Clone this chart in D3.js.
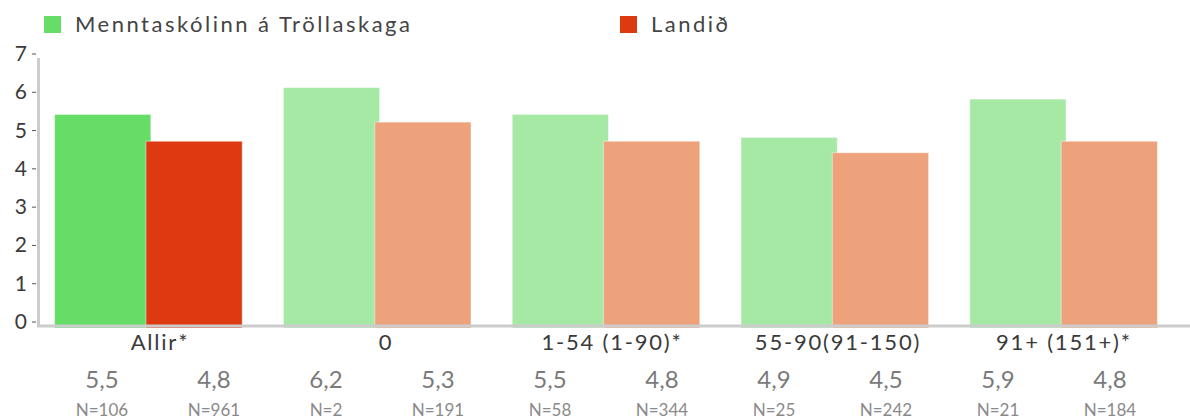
<!DOCTYPE html>
<html>
<head>
<meta charset="utf-8">
<script src="https://cdn.jsdelivr.net/npm/d3@7"></script>
<style>
  body { margin: 0; background: #fff; }
  text { font-family: Lato, "Open Sans", sans-serif; }
</style>
</head>
<body>
<div class="chart"></div>
<script>
var svgWidth = 1190;
var svgHeight = 419;

// data
var categories = ["Allir*", "0", "1-54 (1-90)*", "55-90(91-150)", "91+ (151+)*"];
var seriesNames = ["Menntaskólinn á Tröllaskaga", "Landið"];
var schoolValues = [5.5, 6.2, 5.5, 4.9, 5.9];
var countryValues = [4.8, 5.3, 4.8, 4.5, 4.8];
var schoolN = [106, 2, 58, 25, 21];
var countryN = [961, 191, 344, 242, 184];
var yTicks = [0, 1, 2, 3, 4, 5, 6, 7];

var strongColors = ["#66dd66", "#dd3a12"];
var lightColors = ["#a5e9a5", "#eea27c"];

var svg = d3.select(".chart")
    .append("svg")
    .attr("width", svgWidth)
    .attr("height", svgHeight);

var yScale = d3.scaleLinear()
    .domain([0, 7])
    .range([323, 55]);

var x0 = d3.scaleBand()
    .domain(categories)
    .range([34, 1178])
    .paddingInner(0.18)
    .paddingOuter(0.09);

var barW = x0.bandwidth() * 0.513;

// bars
var groups = svg.selectAll(".group")
    .data(categories)
    .enter()
    .append("g")
    .attr("transform", d => `translate(${x0(d)},0)`);

categories.forEach(function(cat, i) {
    var g = groups.filter(d => d === cat);
    var vals = [schoolValues[i], countryValues[i]];
    var cols = i === 0 ? strongColors : lightColors;
    g.selectAll("rect")
        .data(vals)
        .enter()
        .append("rect")
        .attr("x", (d, j) => j === 0 ? 0 : x0.bandwidth() - barW)
        .attr("y", d => yScale(d) + 2)
        .attr("width", barW)
        .attr("height", d => yScale(0) - yScale(d) + 3)
        .attr("fill", (d, j) => cols[j])
        .attr("stroke", "rgba(255,255,255,0.45)")
        .attr("stroke-width", 1);
});

// axes lines
svg.append("line")
    .attr("x1", 38.5).attr("x2", 38.5)
    .attr("y1", 58).attr("y2", 327)
    .attr("stroke", "#cccccc")
    .attr("stroke-width", 3);

svg.append("line")
    .attr("x1", 37).attr("x2", 1190)
    .attr("y1", 326).attr("y2", 326)
    .attr("stroke", "#cccccc")
    .attr("stroke-width", 3);

// y ticks
var yAxis = svg.append("g");
yAxis.selectAll("line")
    .data(yTicks)
    .enter()
    .append("line")
    .attr("x1", 32).attr("x2", 36)
    .attr("y1", d => yScale(d) - 1).attr("y2", d => yScale(d) - 1)
    .attr("stroke", "#555")
    .attr("stroke-width", 1);

yAxis.selectAll("text")
    .data(yTicks)
    .enter()
    .append("text")
    .attr("x", 27)
    .attr("y", d => yScale(d) + 6)
    .attr("text-anchor", "end")
    .attr("font-size", "21px")
    .attr("fill", "#3a3a3a")
    .text(d => d);

// category labels
var xLab = d3.scaleBand()
    .domain(categories)
    .range([47, 1177]);

svg.selectAll(".cat")
    .data(categories)
    .enter()
    .append("text")
    .attr("x", d => xLab(d) + xLab.bandwidth() / 2)
    .attr("y", 350)
    .attr("text-anchor", "middle")
    .attr("font-size", "22px")
    .attr("letter-spacing", "1.8px")
    .attr("fill", "#3a3a3a")
    .text(d => d);

// value table below
var cells = [];
categories.forEach(function(cat, i) {
    cells.push({ v: schoolValues[i], n: schoolN[i] });
    cells.push({ v: countryValues[i], n: countryN[i] });
});

var xCell = d3.scaleBand()
    .domain(d3.range(cells.length))
    .range([46, 1166]);

var fmt = d => d.toFixed(1).replace(".", ",");

svg.selectAll(".val")
    .data(cells)
    .enter()
    .append("text")
    .attr("x", (d, i) => xCell(i) + xCell.bandwidth() / 2)
    .attr("y", 388)
    .attr("text-anchor", "middle")
    .attr("font-size", "24px")
    .attr("fill", "#7a7a7a")
    .text(d => fmt(d.v));

svg.selectAll(".n")
    .data(cells)
    .enter()
    .append("text")
    .attr("x", (d, i) => xCell(i) + xCell.bandwidth() / 2)
    .attr("y", 416)
    .attr("text-anchor", "middle")
    .attr("font-size", "17px")
    .attr("fill", "#8a8a8a")
    .text(d => "N=" + d.n);

// legend
var legendX = [44, 620];
var legend = svg.selectAll(".legend")
    .data(seriesNames)
    .enter()
    .append("g")
    .attr("transform", (d, i) => `translate(${legendX[i]}, 16)`);

legend.append("rect")
    .attr("width", 17)
    .attr("height", 17)
    .attr("fill", (d, i) => strongColors[i]);

legend.append("text")
    .attr("x", 31)
    .attr("y", 16)
    .attr("font-size", "22px")
    .attr("letter-spacing", "2.5px")
    .attr("fill", "#444")
    .text(d => d);
</script>
</body>
</html>
